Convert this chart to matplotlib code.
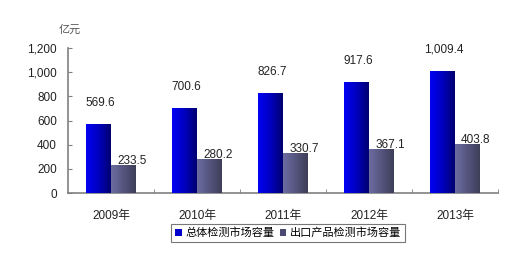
import matplotlib
matplotlib.use("Agg")
import matplotlib.pyplot as plt
import numpy as np
from matplotlib.colors import LinearSegmentedColormap
from matplotlib.patches import Patch

plt.rcParams['font.family'] = ['Liberation Sans', 'Noto Sans CJK SC', 'DejaVu Sans']

years = ["2009年", "2010年", "2011年", "2012年", "2013年"]
total = [569.6, 700.6, 826.7, 917.6, 1009.4]
export = [233.5, 280.2, 330.7, 367.1, 403.8]
total_labels = ["569.6", "700.6", "826.7", "917.6", "1,009.4"]
export_labels = ["233.5", "280.2", "330.7", "367.1", "403.8"]
series_names = ["总体检测市场容量", "出口产品检测市场容量"]
yticks = [0, 200, 400, 600, 800, 1000, 1200]
ytick_labels = ["0", "200", "400", "600", "800", "1,000", "1,200"]

fig = plt.figure(figsize=(5.12, 2.63), dpi=100)
ax = fig.add_axes([0.1328, 0.266, 0.84, 0.5515])

x = np.arange(len(years))
w = 0.29
b1 = ax.bar(x - w / 2, total, w, color="#0000d0", edgecolor="none", zorder=2)
b2 = ax.bar(x + w / 2, export, w, color="#55557f", edgecolor="none", zorder=2)

cmap_blue = LinearSegmentedColormap.from_list("b", ["#0000f5", "#0000c0", "#000070"])
cmap_grey = LinearSegmentedColormap.from_list("g", ["#6c6ca2", "#55557f", "#3e3e58"])
grad = np.linspace(0, 1, 64).reshape(1, -1)
for bars, cm in ((b1, cmap_blue), (b2, cmap_grey)):
    for p in bars:
        bx, by = p.get_x(), p.get_y()
        bw, bh = p.get_width(), p.get_height()
        im = ax.imshow(grad, cmap=cm, aspect="auto", extent=(bx, bx + bw, by, by + bh),
                       zorder=3, interpolation="bicubic")
        im.set_clip_path(p)

for i in range(len(years)):
    ax.annotate(total_labels[i], (x[i] - w / 2, total[i]), xytext=(1, 11),
                textcoords="offset points", ha="center", va="bottom", fontsize=8.5,
                color="#222222", zorder=5)
    ax.annotate(export_labels[i], (x[i] + w / 2, export[i]), xytext=(6, -1.5),
                textcoords="offset points", ha="center", va="bottom", fontsize=8.5,
                color="#222222", zorder=5)

ax.set_xlim(-0.5, len(years) - 0.5)
ax.set_ylim(0, 1200)
ax.set_yticks(yticks)
ax.set_yticklabels(ytick_labels, fontsize=8.5, color="#222222")
ax.set_xticks(x)
ax.set_xticklabels(years, fontsize=8.5, color="#222222")
ax.tick_params(axis="x", length=0, pad=12)
ax.set_xticks(np.arange(len(years)) + 0.5, minor=True)
ax.tick_params(axis="x", which="minor", direction="in", length=3, color="#808080")
ax.tick_params(axis="y", direction="in", length=3, color="#808080", pad=8)

for s in ("top", "right"):
    ax.spines[s].set_visible(False)
for s in ("left", "bottom"):
    ax.spines[s].set_color("#808080")
    ax.spines[s].set_linewidth(1.2)

fig.text(70 / 512, 1 - 30 / 263, "亿元", ha="center", va="center", fontsize=8,
         color="#555555", family=["Noto Sans CJK SC"], style="italic")

handles = [Patch(facecolor="#0000cc", edgecolor="none"), Patch(facecolor="#4a4a72", edgecolor="none")]
leg = fig.legend(handles, series_names, loc="center", bbox_to_anchor=(288 / 512, 1 - 233 / 263),
                 ncol=2, frameon=True, fancybox=False,
                 prop={"family": ["Noto Sans CJK SC"], "size": 8},
                 handlelength=0.6, handleheight=0.6, handletextpad=0.3, columnspacing=0.5,
                 borderpad=0.35, borderaxespad=0)
leg.get_frame().set_edgecolor("#555555")
leg.get_frame().set_linewidth(0.8)

fig.savefig("out.png", dpi=100)
